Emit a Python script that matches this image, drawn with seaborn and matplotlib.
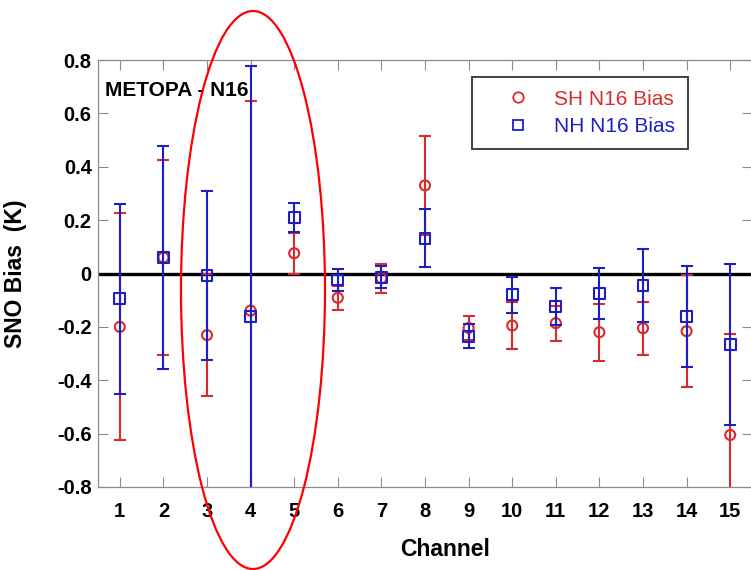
import numpy as np
import pandas as pd
import matplotlib
matplotlib.use("Agg")
import matplotlib.pyplot as plt
from matplotlib.lines import Line2D
from matplotlib.patches import Ellipse
import seaborn as sns

# SNO bias per channel (K) with one-sigma spread
channels = list(range(1, 16))
sh_bias = [-0.200, 0.060, -0.231, -0.139, 0.076, -0.091, -0.018, 0.330,
           -0.204, -0.195, -0.186, -0.220, -0.205, -0.216, -0.605]
sh_err = [0.425, 0.365, 0.228, 0.785, 0.077, 0.045, 0.054, 0.187,
          0.046, 0.089, 0.066, 0.107, 0.100, 0.209, 0.377]
nh_bias = [-0.095, 0.060, -0.008, -0.160, 0.209, -0.024, -0.014, 0.132,
           -0.236, -0.080, -0.124, -0.076, -0.045, -0.161, -0.266]
nh_err = [0.357, 0.416, 0.317, 0.937, 0.054, 0.042, 0.042, 0.109,
          0.045, 0.067, 0.069, 0.096, 0.135, 0.188, 0.302]
y_ticks = [-0.8, -0.6, -0.4, -0.2, 0.0, 0.2, 0.4, 0.6, 0.8]
y_ticklabels = ["-0.8", "-0.6", "-0.4", "-0.2", "0", "0.2", "0.4", "0.6", "0.8"]
series_labels = ["SH N16 Bias", "NH N16 Bias"]

RED = "#D92B2B"
BLUE = "#1E1EC2"
GREY = "#8C8C8C"

sns.set_theme(style="white")
plt.rcParams["font.family"] = ["Liberation Sans", "DejaVu Sans"]
plt.rcParams["text.color"] = "black"
plt.rcParams["axes.labelcolor"] = "black"
plt.rcParams["xtick.labelcolor"] = "black"
plt.rcParams["ytick.labelcolor"] = "black"

df_sh = pd.DataFrame({"channel": channels, "bias": sh_bias, "err": sh_err})
df_nh = pd.DataFrame({"channel": channels, "bias": nh_bias, "err": nh_err})

fig = plt.figure(figsize=(7.51, 5.70), dpi=100)
ax = fig.add_axes([98 / 751, 1 - 487 / 570, 654 / 751, 427 / 570])

ax.axhline(0, color="black", lw=2.4, zorder=1.5)

for df, color, marker, size, z in [(df_sh, RED, "o", 52, 2), (df_nh, BLUE, "s", 60, 3)]:
    ax.errorbar(df["channel"], df["bias"], yerr=df["err"], fmt="none",
                ecolor=color, elinewidth=1.5, capsize=4.2, capthick=1.5, zorder=z)
    sns.scatterplot(data=df, x="channel", y="bias", marker=marker, s=size,
                    facecolor="none", edgecolor=color, linewidth=1.5,
                    zorder=z + 0.5, ax=ax)

ax.set_xlim(0.5, 15.5)
ax.set_ylim(-0.8, 0.8)
ax.set_xticks(channels)
ax.set_xticklabels([str(c) for c in channels], fontsize=14.5, fontweight="bold")
ax.set_yticks(y_ticks)
ax.set_yticklabels(y_ticklabels, fontsize=14.5, fontweight="bold")
ax.tick_params(axis="x", direction="in", length=7.5, width=0.8, color=GREY,
               top=True, bottom=True, pad=11)
ax.tick_params(axis="y", direction="in", length=7.5, width=0.8, color=GREY,
               left=True, right=True, pad=4.5)
for sp in ax.spines.values():
    sp.set_color(GREY)
    sp.set_linewidth(0.9)

ax.set_xlabel("Channel", fontsize=16.5, fontweight="bold")
ax.xaxis.set_label_coords(0.53, -0.12)
ax.set_ylabel("SNO Bias  (K)", fontsize=16.5, fontweight="bold")
ax.yaxis.set_label_coords(-0.108, 0.5)

ax.text(0.011, 0.928, "METOPA - N16", transform=ax.transAxes, fontsize=15,
        fontweight="bold", va="center", ha="left", color="black")

handles = [Line2D([], [], ls="none", marker="o", ms=7.5, mfc="none", mec=RED, mew=1.3),
           Line2D([], [], ls="none", marker="s", ms=7.5, mfc="none", mec=BLUE, mew=1.3)]
leg = ax.legend(handles, series_labels, loc="upper left",
                bbox_to_anchor=(0.572, 0.960), fontsize=15, frameon=True,
                fancybox=False, borderpad=0.6, labelspacing=0.42,
                handlelength=3.2, handletextpad=0.15, borderaxespad=0)
leg.get_frame().set_edgecolor("black")
leg.get_frame().set_linewidth(1.3)
for txt, color in zip(leg.get_texts(), [RED, BLUE]):
    txt.set_color(color)

# Highlight around channels 3-5
fig.add_artist(Ellipse(xy=(253 / 751, 1 - 290 / 570), width=144 / 751,
                       height=558 / 570, transform=fig.transFigure,
                       fill=False, edgecolor="red", lw=1.6, zorder=10))

fig.savefig("out.png", dpi=100)
